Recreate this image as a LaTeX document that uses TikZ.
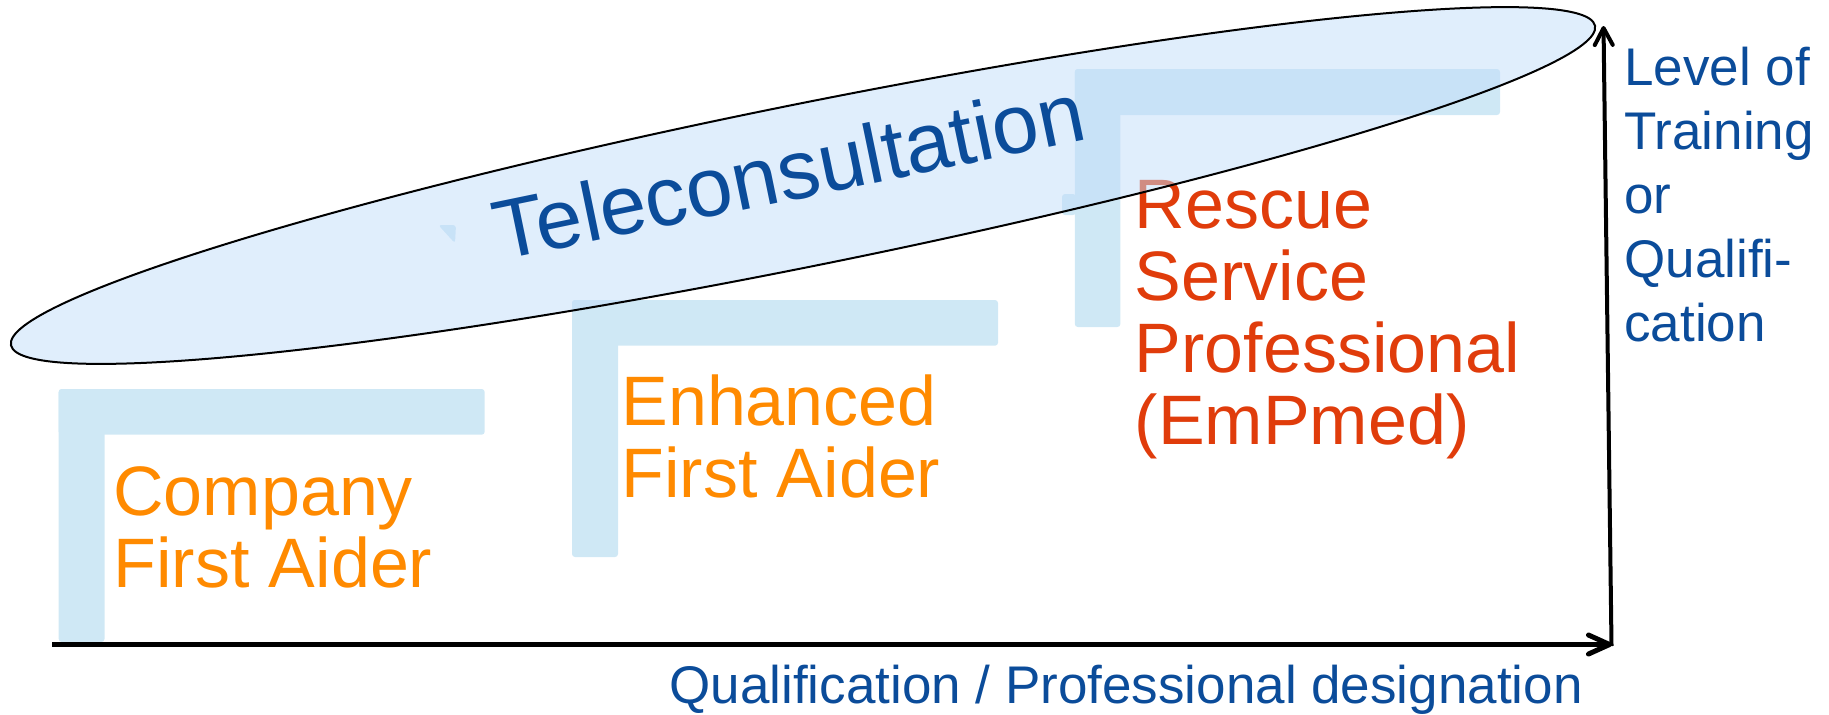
\documentclass[tikz,border=0pt]{standalone}
\usepackage{fontspec}
\setmainfont{Liberation Sans}
\usetikzlibrary{arrows.meta}
\definecolor{lcol}{HTML}{CFE8F5}
\definecolor{ellfill}{HTML}{C2DDFA}
\definecolor{tblue}{HTML}{0B4C9A}
\definecolor{torange}{HTML}{FF8A00}
\definecolor{tred}{HTML}{E03C0B}
\tikzset{
  lbar/.style={fill=lcol, draw=none, rounded corners=1.5pt},
  role/.style={anchor=base west, inner sep=0pt, align=left, font=\fontsize{35}{36}\selectfont},
  axlabel/.style={anchor=base west, inner sep=0pt, align=left, text=tblue, font=\fontsize{26.5}{32}\selectfont},
  ell/.style={draw=black, line width=1pt, fill=ellfill, fill opacity=0.5},
  haxis/.style={line width=2.5pt, -{Straight Barb[length=10.5pt, width=9.5pt, round]}},
  vaxis/.style={line width=2pt, -{Straight Barb[length=8.5pt, width=9pt, round]}}
}
\begin{document}
\begin{tikzpicture}[x=0.5pt, y=-0.5pt]
\useasboundingbox (0,0) rectangle (1829,714);
% L shaped steps
\fill[lbar] (58.7,389) rectangle (484.7,434.7);
\fill[lbar] (58.7,389) rectangle (104.5,642);
\fill[lbar] (572,300) rectangle (998,345.7);
\fill[lbar] (572,300) rectangle (618,557);
\fill[lbar] (1074.8,69) rectangle (1500,115);
\fill[lbar] (1074.8,69) rectangle (1120.4,327);
% small remnants
\fill[lbar] (438.3,225) -- (456,225) -- (455,243.3) -- cycle;
\fill[lbar] (1062,194) rectangle (1076,215);
% step labels (anchored at the baseline of their last line)
\node[role, text=torange] (company) at (113,587.7) {Company\\First Aider};
\node[role, text=torange] (enhanced) at (621,497.3) {Enhanced\\First Aider};
\node[role, text=tred] (rescue) at (1134.5,444) {Rescue\\Service\\Professional\\(EmPmed)};
% ellipse
\draw[ell, rotate around={11.4:(803,185.5)}] (803,185.5) ellipse [x radius=808, y radius=81];
\node[anchor=base west, inner sep=0pt, rotate=11.7, text=tblue, font=\fontsize{41.9}{50}\selectfont] (tele) at (500,260.7) {Teleconsultation};
% axes
\coordinate (O) at (52,644.5);
\coordinate (C) at (1612,644.5);
\coordinate (Cb) at (1611.5,646);
\coordinate (T) at (1603.5,26);
\draw[haxis] (O) -- (C);
\draw[vaxis] (Cb) -- (T);
\node[axlabel] (ylab) at (1624,341.7) {Level of\\Training\\or\\Qualifi-\\cation};
\node[axlabel] (xlab) at (669,703.3) {Qualification / Professional designation};
\end{tikzpicture}
\end{document}
